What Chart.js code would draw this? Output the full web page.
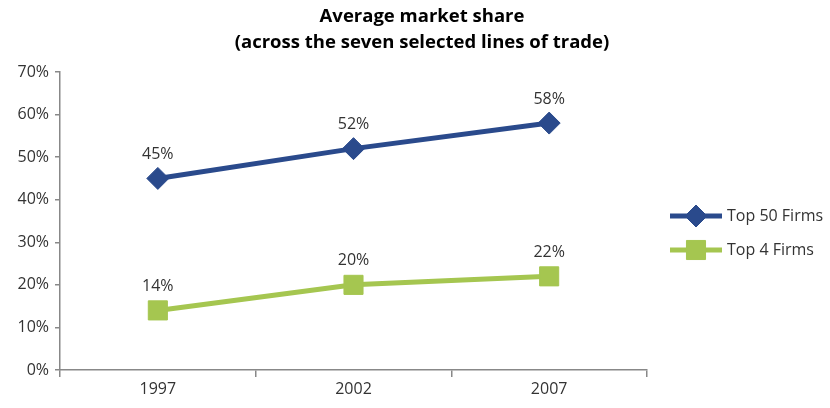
<!DOCTYPE html>
<html>
<head>
<meta charset="utf-8">
<script src="https://cdn.jsdelivr.net/npm/chart.js@4"></script>
<style>
  html, body { margin: 0; padding: 0; background: #fff; }
</style>
</head>
<body>
<canvas id="graph" width="830" height="408"></canvas>
<script>
const years = ['1997', '2002', '2007'];
const top50 = [45, 52, 58];
const top4 = [14, 20, 22];
const titleLines = ['Average market share', '(across the seven selected lines of trade)'];
const FONT = "'Open Sans', sans-serif";

// title, point labels and the legend at the right
const decor = {
    id: 'decor',
    afterDraw(chart) {
        const c = chart.ctx;
        c.save();
        c.fillStyle = '#000';
        c.textAlign = 'center';
        c.textBaseline = 'middle';
        c.font = 'bold 18.5px ' + FONT;
        c.fillText(titleLines[0], 422, 17);
        c.fillText(titleLines[1], 422, 43);

        c.font = '16px ' + FONT;
        c.fillStyle = '#333';
        chart.data.datasets.forEach((ds, i) => {
            chart.getDatasetMeta(i).data.forEach((pt, j) => {
                c.fillText(ds.data[j] + '%', pt.x, pt.y - 24);
            });
        });

        chart.data.datasets.forEach((ds, i) => {
            const y = 216 + i * 34;
            c.strokeStyle = ds.borderColor;
            c.lineWidth = ds.borderWidth;
            c.beginPath();
            c.moveTo(670, y);
            c.lineTo(722, y);
            c.stroke();
            c.fillStyle = ds.pointBackgroundColor;
            c.lineWidth = 1;
            Chart.helpers.drawPoint(c, {
                pointStyle: ds.pointStyle,
                radius: ds.pointRadius,
                borderWidth: 1
            }, 696, y);
            c.fillStyle = '#333';
            c.textAlign = 'left';
            c.fillText(ds.label, 727, y);
        });
        c.restore();
    }
};

const ctx = document.getElementById('graph');
const myChart = new Chart(ctx, {
    type: 'line',
    data: {
        labels: years,
        datasets: [{
            label: 'Top 50 Firms',
            data: top50,
            borderColor: '#2a4a8c',
            backgroundColor: '#2a4a8c',
            pointBackgroundColor: '#2a4a8c',
            pointBorderColor: '#2a4a8c',
            borderWidth: 5,
            pointStyle: 'rectRot',
            pointRadius: 11,
            pointBorderWidth: 1
        }, {
            label: 'Top 4 Firms',
            data: top4,
            borderColor: '#a5c650',
            backgroundColor: '#a5c650',
            pointBackgroundColor: '#a5c650',
            pointBorderColor: '#a5c650',
            borderWidth: 5,
            pointStyle: 'rect',
            pointRadius: 13.5,
            pointBorderWidth: 1
        }]
    },
    options: {
        responsive: false,
        animation: false,
        layout: { padding: { top: 72, right: 183, left: 0, bottom: 0 } },
        scales: {
            x: {
                offset: true,
                grid: { offset: true, drawOnChartArea: false, color: '#888', tickLength: 7, lineWidth: 1.5 },
                border: { color: '#888', width: 1.5 },
                ticks: { color: '#333', font: { family: FONT, size: 16 }, padding: 3, maxRotation: 0 },
                afterFit: s => { s.height = 38; }
            },
            y: {
                min: 0,
                max: 70,
                grid: { drawOnChartArea: false, color: '#888', tickLength: 5, lineWidth: 1.5 },
                border: { color: '#888', width: 1.5 },
                ticks: {
                    stepSize: 10,
                    color: '#333',
                    font: { family: FONT, size: 16 },
                    padding: 6,
                    callback: v => v + '%'
                },
                afterFit: s => { s.width = 60; }
            }
        },
        plugins: {
            legend: { display: false },
            tooltip: { enabled: false }
        }
    },
    plugins: [decor]
});
</script>
</body>
</html>
